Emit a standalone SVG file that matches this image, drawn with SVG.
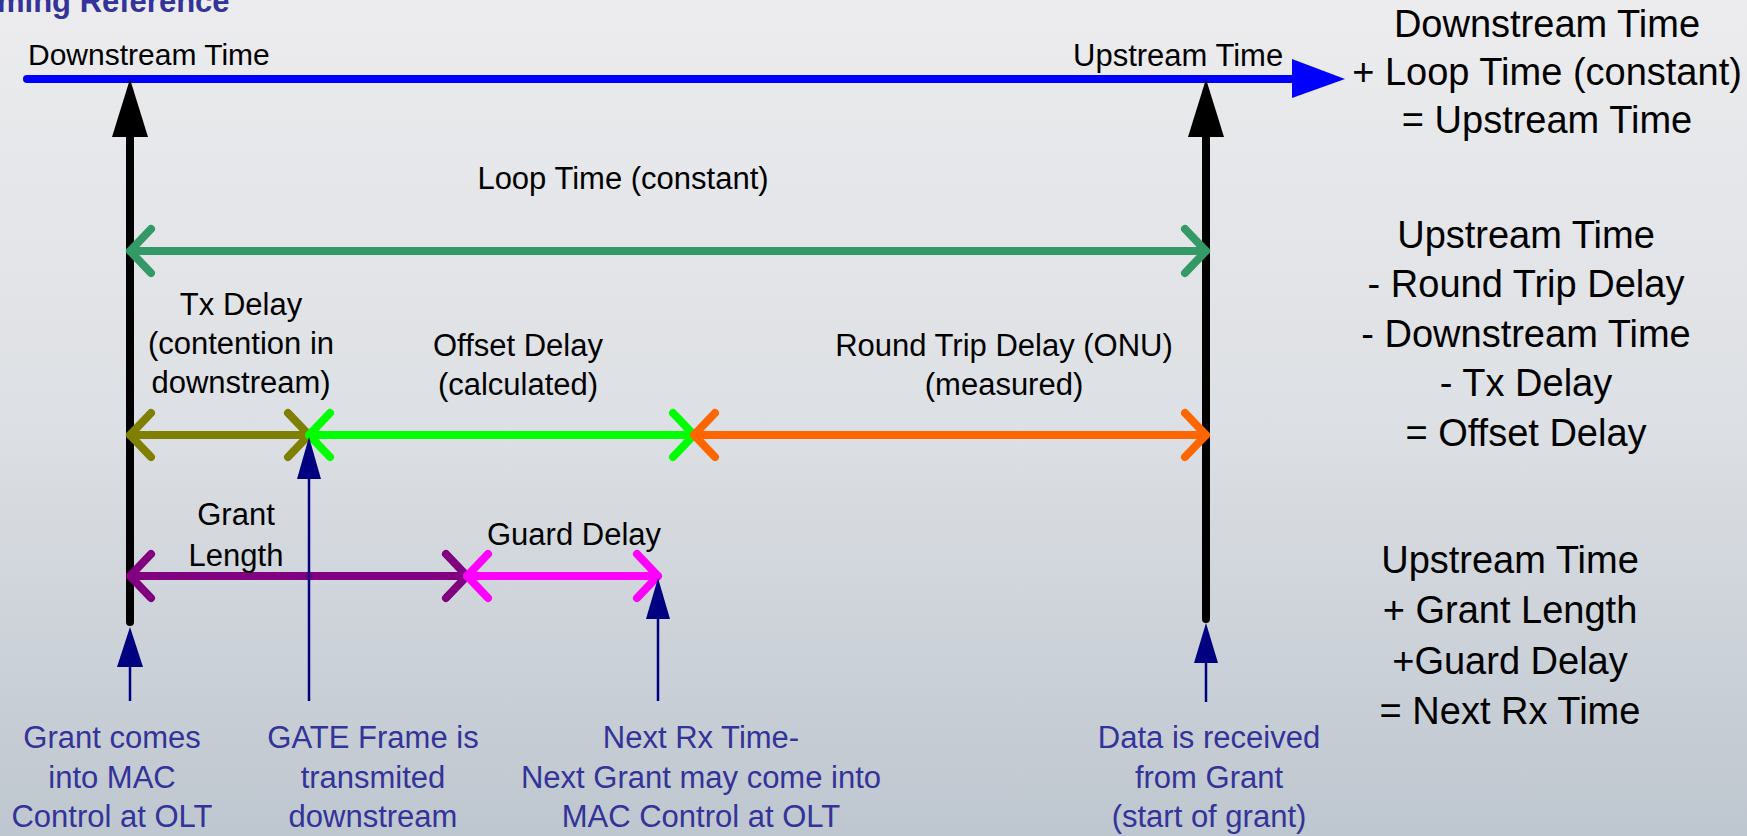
<svg xmlns="http://www.w3.org/2000/svg" width="1747" height="836" viewBox="0 0 1747 836">
<defs>
<linearGradient id="bg" x1="0" y1="0" x2="0" y2="1">
<stop offset="0" stop-color="#ECECEE"/>
<stop offset="0.5" stop-color="#DDE0E4"/>
<stop offset="1" stop-color="#BEC6CF"/>
</linearGradient>
</defs>
<style>
text{font-family:"Liberation Sans",Arial,sans-serif}
.ttl{font-size:31px;font-weight:bold;fill:#333399}
.hdr{font-size:30px;fill:#000}
.lbl{font-size:31px;fill:#000;text-anchor:middle}
.ann{font-size:31px;fill:#333399;text-anchor:middle}
.frm{font-size:38px;fill:#000;text-anchor:middle}
.seg{fill:none;stroke-width:8;stroke-linecap:round;stroke-linejoin:round}
.nv{stroke:#000080;stroke-width:2.5;fill:none}
.nvh{fill:#000080}
</style>
<rect x="0" y="0" width="1747" height="836" fill="url(#bg)"/>
<text class="ttl" x="-3" y="12">ming Reference</text>

<g id="timeline">
<line x1="27" y1="79" x2="1300" y2="79" stroke="#0000FF" stroke-width="8" stroke-linecap="round"/>
<polygon points="1292,59 1345,79 1292,98" fill="#0000FF"/>
<text class="hdr" x="28" y="65">Downstream Time</text>
<text class="hdr" x="1073" y="66" style="font-size:31px">Upstream Time</text>
</g>

<g id="connectors">
<!-- black time markers -->
<line x1="130" y1="130" x2="130" y2="622" stroke="#000" stroke-width="8" stroke-linecap="round"/>
<polygon points="130,79 148,137 112,137" fill="#000"/>
<line x1="1206" y1="130" x2="1206" y2="619" stroke="#000" stroke-width="8" stroke-linecap="round"/>
<polygon points="1206,79 1224,137 1188,137" fill="#000"/>

<!-- loop time -->
<path class="seg" stroke="#339966" d="M130,251 H1206 M151,229 L130,251 L151,273 M1185,229 L1206,251 L1185,273"/>

<!-- tx delay / offset / round trip -->
<path class="seg" stroke="#808000" d="M130,435 H309 M151,413 L130,435 L151,457 M288,413 L309,435 L288,457"/>
<path class="seg" stroke="#00FF00" d="M309,435 H694 M330,413 L309,435 L330,457 M673,413 L694,435 L673,457"/>
<path class="seg" stroke="#FF6600" d="M694,435 H1206 M715,413 L694,435 L715,457 M1185,413 L1206,435 L1185,457"/>

<!-- grant / guard -->
<path class="seg" stroke="#800080" d="M130,576 H467 M151,554 L130,576 L151,598 M446,554 L467,576 L446,598"/>
<path class="seg" stroke="#FF00FF" d="M467,576 H658 M488,554 L467,576 L488,598 M637,554 L658,576 L637,598"/>

<!-- navy pointers -->
<line class="nv" x1="130" y1="660" x2="130" y2="701"/>
<polygon class="nvh" points="130,627 143,667 117,667"/>
<line class="nv" x1="309" y1="470" x2="309" y2="701"/>
<polygon class="nvh" points="309,437 321,479 297,479"/>
<line class="nv" x1="658" y1="610" x2="658" y2="701"/>
<polygon class="nvh" points="658,578 670,619 646,619"/>
<line class="nv" x1="1206" y1="655" x2="1206" y2="702"/>
<polygon class="nvh" points="1206,623 1218,663 1194,663"/>
</g>

<g id="loop-label"><text class="lbl" x="623" y="189">Loop Time (constant)</text></g>
<g id="tx-label">
<text class="lbl" x="241" y="315">Tx Delay</text>
<text class="lbl" x="241" y="354">(contention in</text>
<text class="lbl" x="241" y="393">downstream)</text>
</g>
<g id="offset-label">
<text class="lbl" x="518" y="356">Offset Delay</text>
<text class="lbl" x="518" y="395">(calculated)</text>
</g>
<g id="rtd-label">
<text class="lbl" x="1004" y="356">Round Trip Delay (ONU)</text>
<text class="lbl" x="1004" y="395">(measured)</text>
</g>
<g id="grant-label">
<text class="lbl" x="236" y="525">Grant</text>
<text class="lbl" x="236" y="566">Length</text>
</g>
<g id="guard-label"><text class="lbl" x="574" y="545">Guard Delay</text></g>

<g id="ann-grant">
<text class="ann" x="112" y="748">Grant comes</text>
<text class="ann" x="112" y="788">into MAC</text>
<text class="ann" x="112" y="827">Control at OLT</text>
</g>
<g id="ann-gate">
<text class="ann" x="373" y="748">GATE Frame is</text>
<text class="ann" x="373" y="788">transmited</text>
<text class="ann" x="373" y="827">downstream</text>
</g>
<g id="ann-next">
<text class="ann" x="701" y="748">Next Rx Time-</text>
<text class="ann" x="701" y="788">Next Grant may come into</text>
<text class="ann" x="701" y="827">MAC Control at OLT</text>
</g>
<g id="ann-data">
<text class="ann" x="1209" y="748">Data is received</text>
<text class="ann" x="1209" y="788">from Grant</text>
<text class="ann" x="1209" y="827">(start of grant)</text>
</g>

<g id="formula-1">
<text class="frm" x="1547" y="37">Downstream Time</text>
<text class="frm" x="1547" y="85">+ Loop Time (constant)</text>
<text class="frm" x="1547" y="133">= Upstream Time</text>
</g>
<g id="formula-2">
<text class="frm" x="1526" y="248">Upstream Time</text>
<text class="frm" x="1526" y="297">- Round Trip Delay</text>
<text class="frm" x="1526" y="347">- Downstream Time</text>
<text class="frm" x="1526" y="396">- Tx Delay</text>
<text class="frm" x="1526" y="446">= Offset Delay</text>
</g>
<g id="formula-3">
<text class="frm" x="1510" y="573">Upstream Time</text>
<text class="frm" x="1510" y="623">+ Grant Length</text>
<text class="frm" x="1510" y="674">+Guard Delay</text>
<text class="frm" x="1510" y="724">= Next Rx Time</text>
</g>
</svg>
